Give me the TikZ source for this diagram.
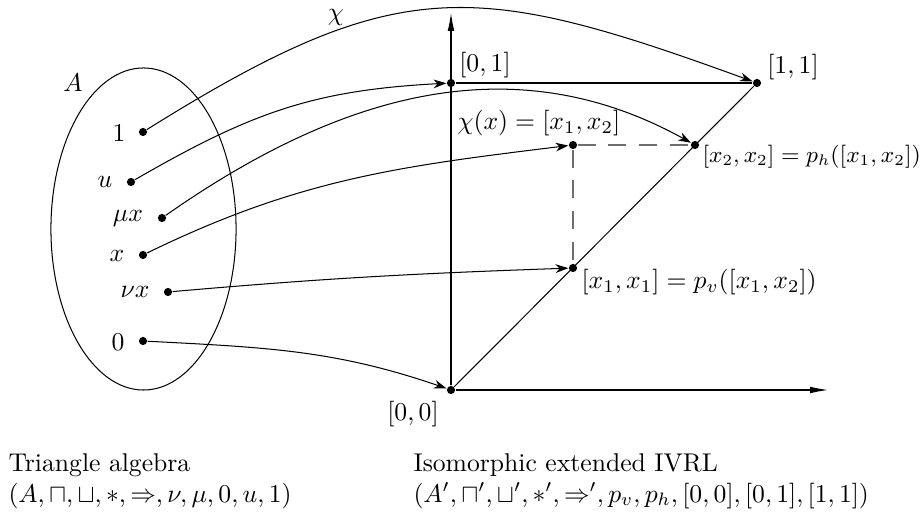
\documentclass[tikz,border=0pt]{standalone}
\usepackage{amsmath,amssymb}
\usetikzlibrary{arrows.meta,positioning}
\definecolor{gris}{HTML}{6E6E6E}
\tikzset{
  punto/.style={circle,fill=black,inner sep=0pt,minimum size=3.2pt},
  flecha/.style={-{Stealth[length=5pt,width=3.4pt,inset=1.6pt]},line width=0.4pt},
  eje/.style={-{Latex[length=7pt,width=2.6pt]},line width=0.4pt},
  guia/.style={draw=gris,dash pattern=on 7pt off 5pt,line width=0.45pt},
  texto/.style={align=left,anchor=west,inner sep=0pt},
}
\begin{document}
\begin{tikzpicture}[x=0.39pt,y=0.39pt]
\useasboundingbox (0,0) rectangle (920,-525);
% conjunto A
\draw[line width=0.4pt] (143.5,-229) ellipse [x radius=36.1pt,y radius=62.8pt];
\node[punto] (a1) at (143,-132) {};
\node[punto] (au) at (131,-182) {};
\node[punto] (amu) at (162,-218) {};
\node[punto] (ax) at (143,-255) {};
\node[punto] (anu) at (168,-292) {};
\node[punto] (a0) at (143,-341) {};
\node (tA) at (73,-83) {$A$};
\node (t1) at (119,-133) {$1$};
\node (tu) at (105,-182) {$u$};
\node (tmu) at (128,-218) {$\mu x$};
\node (tx) at (117,-256) {$x$};
\node (tnu) at (135,-292) {$\nu x$};
\node (t0) at (118,-342) {$0$};
% IVRL
\node[punto] (p00) at (451,-390) {};
\node[punto] (p01) at (451,-83) {};
\node[punto] (p11) at (757,-83) {};
\node[punto] (pxx) at (573,-145) {};
\node[punto] (ph) at (695,-145) {};
\node[punto] (pv) at (573,-268) {};
\coordinate (ejey) at (451,-13);
\coordinate (ejex) at (828,-390);
\draw[eje] (p00) -- (ejey);
\draw[eje] (p00) -- (ejex);
\draw[line width=0.4pt] (p01) -- (p11);
\draw[line width=0.4pt] (p00) -- (p11);
\draw[guia] (pxx) -- (ph);
\draw[guia] (pxx) -- (pv);
\node (t00) at (413,-414) {$[0,0]$};
\node (t01) at (485,-65) {$[0,1]$};
\node (t11) at (793,-67) {$[1,1]$};
\node[texto] (txx) at (457,-123) {$\chi(x)=[x_1,x_2]$};
\node[texto,font=\fontsize{9}{11}\selectfont] (th) at (702,-157) {$[x_2,x_2]=p_h([x_1,x_2])$};
\node[texto] (tv) at (581,-282) {$[x_1,x_1]=p_v([x_1,x_2])$};
% aplicacion chi
\draw[flecha] (a1) to[out=32,in=160,looseness=1.25] (p11);
\draw[flecha] (au) to[out=30,in=183,looseness=1.05] (p01);
\draw[flecha] (amu) to[out=35,in=151] (ph);
\draw[flecha] (ax) to[out=26,in=187] (pxx);
\draw[flecha] (anu) to[out=5,in=182] (pv);
\draw[flecha] (a0) to[out=-3,in=161] (p00);
\node (tchi) at (336,-17) {$\chi$};
% leyendas
\node[texto] (tria) at (8,-481) {Triangle algebra\\$(A,\sqcap,\sqcup,*,\Rightarrow,\nu,\mu,0,u,1)$};
\node[texto] (ivrl) at (413,-481) {Isomorphic extended IVRL\\$(A',\sqcap',\sqcup',*',\Rightarrow',p_v,p_h,[0,0],[0,1],[1,1])$};
\end{tikzpicture}
\end{document}
